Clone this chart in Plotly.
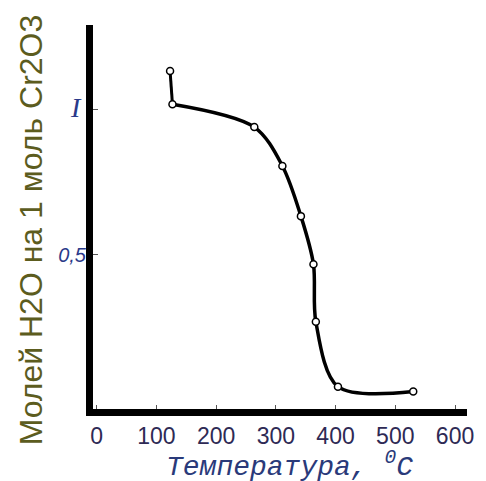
import plotly.graph_objects as go

# Data
temps = [123, 127, 264, 311, 342, 363, 367, 404, 530]
moles = [1.134, 1.02, 0.941, 0.807, 0.634, 0.468, 0.27, 0.046, 0.029]

x_ticks = [0, 100, 200, 300, 400, 500, 600]
x_tick_text = ["0", "100", "200", "300", "400", "500", "600"]
y_ticks = [0.5, 1.0]
y_tick_text = ["<i>0,5</i>",
               "<span style='font-family:Liberation Serif;font-size:28px'><i>I</i></span> "]

fig = go.Figure()
# short straight drop between first two points
fig.add_trace(go.Scatter(x=temps[:2], y=moles[:2], mode="lines",
                         line=dict(color="black", width=3), showlegend=False))
# smooth curve through the remaining points
fig.add_trace(go.Scatter(x=temps[1:], y=moles[1:], mode="lines",
                         line=dict(color="black", width=3.5, shape="spline", smoothing=0.9),
                         showlegend=False))
fig.add_trace(go.Scatter(x=temps, y=moles, mode="markers",
                         marker=dict(symbol="circle", size=7, color="white",
                                     line=dict(color="black", width=1.5)),
                         showlegend=False))

# page body has an 8px margin, so the figure is offset by 8px
fig.update_layout(
    width=478, height=473,
    margin=dict(l=85, r=14, t=17, b=72),
    paper_bgcolor="white", plot_bgcolor="white",
    xaxis=dict(range=[-6, 620], showgrid=False, zeroline=False,
               showline=True, linecolor="black", linewidth=7,
               tickvals=x_ticks, ticktext=x_tick_text,
               ticks="inside", ticklen=4, tickwidth=1, tickcolor="#555",
               tickfont=dict(family="Liberation Sans, Arial", size=23, color="#2e2a55")),
    yaxis=dict(range=[-0.031, 1.293], showgrid=False, zeroline=False,
               showline=True, linecolor="black", linewidth=7,
               tickvals=y_ticks, ticktext=y_tick_text,
               ticks="inside", ticklen=5, tickwidth=1, tickcolor="#555",
               ticklabelstandoff=-4,
               tickfont=dict(family="Liberation Sans, Arial", size=20, color="#2a3a8a")),
    annotations=[
        dict(text="<i>Температура, <sup>0</sup>С</i>", xref="paper", yref="paper",
             x=0.525, y=-0.145, xanchor="center", yanchor="middle", showarrow=False,
             font=dict(family="Liberation Mono, Courier New", size=28, color="#2a3a7a")),
        dict(text="Молей H2O на 1 моль Cr2O3", xref="paper", yref="paper",
             x=-0.165, y=0.466, xanchor="center", yanchor="middle", showarrow=False,
             textangle=-90,
             font=dict(family="Liberation Sans, Arial", size=32, color="#5c5c1e")),
    ],
)

fig.write_html("out.html")
